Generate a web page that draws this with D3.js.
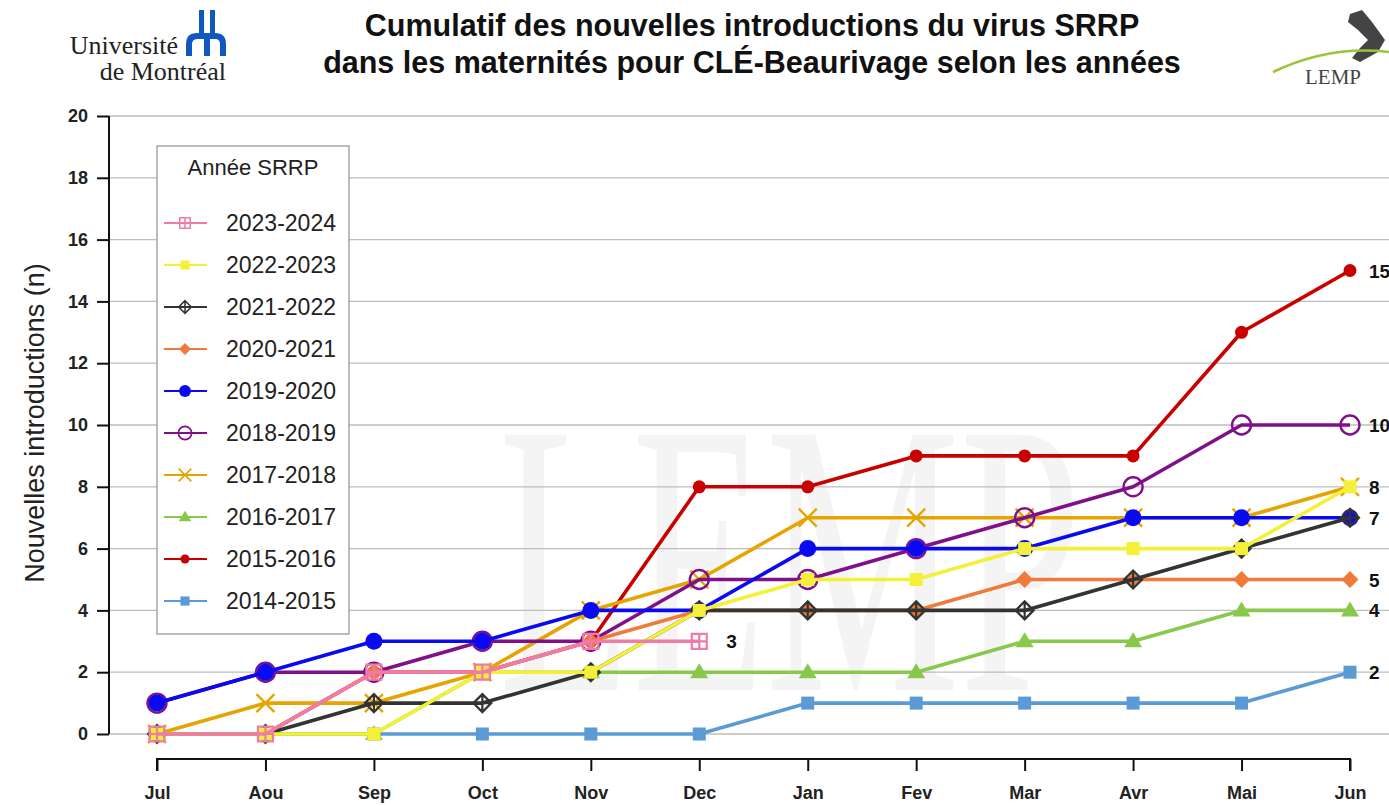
<!DOCTYPE html>
<html><head><meta charset="utf-8">
<script src="https://cdn.jsdelivr.net/npm/d3@7"></script>
<style>body{margin:0;background:#fff;overflow:hidden}svg{display:block}</style>
</head><body>
<svg id="c" width="1389" height="806"></svg>
<script>
const months = ["Jul","Aou","Sep","Oct","Nov","Dec","Jan","Fev","Mar","Avr","Mai","Jun"];
const yTicks = [0,2,4,6,8,10,12,14,16,18,20];
const s2014 = [0,0,0,0,0,0,1,1,1,1,1,2];
const s2015 = [0,0,2,2,3,8,8,9,9,9,13,15];
const s2016 = [0,0,0,2,2,2,2,2,3,3,4,4];
const s2017 = [0,1,1,2,4,5,7,7,7,7,7,8];
const s2018 = [1,2,2,3,3,5,5,6,7,8,10,10];
const s2019 = [1,2,3,3,4,4,6,6,6,7,7,7];
const s2020 = [0,0,2,2,3,4,4,4,5,5,5,5];
const s2021 = [0,0,1,1,2,4,4,4,4,5,6,7];
const s2022 = [0,0,0,2,2,4,5,5,6,6,6,8];
const s2023 = [0,0,2,2,3,3];
const endLabels = [15,10,8,7,5,4,2];
const series = [
  {name:"2014-2015", values:s2014, color:"#5b9bd5", marker:"square"},
  {name:"2015-2016", values:s2015, color:"#c80000", marker:"dot"},
  {name:"2016-2017", values:s2016, color:"#88c84a", marker:"triangle"},
  {name:"2017-2018", values:s2017, color:"#e6a400", marker:"x"},
  {name:"2018-2019", values:s2018, color:"#80108a", marker:"ocircle"},
  {name:"2019-2020", values:s2019, color:"#0a0af0", marker:"circle"},
  {name:"2020-2021", values:s2020, color:"#ef7a3a", marker:"diamond"},
  {name:"2021-2022", values:s2021, color:"#333333", marker:"pdiamond"},
  {name:"2022-2023", values:s2022, color:"#f4f03a", marker:"fsquare"},
  {name:"2023-2024", values:s2023, color:"#f07aa8", marker:"psquare"}
];
const FONT = "Liberation Sans, Arial, sans-serif";

const svg = d3.select("#c");
const x = d3.scalePoint().domain(months).range([157,1350]);
const y = d3.scaleLinear().domain([0,20]).range([734,116]);

// watermark
svg.append("text").attr("transform","translate(790,690) scale(0.56,1)")
  .attr("text-anchor","middle").attr("font-family","Liberation Serif, serif")
  .attr("font-size",390).attr("fill","#f4f4f4").text("LEMP");

// grid
svg.append("g").selectAll("line").data(yTicks).join("line")
  .attr("x1",109).attr("x2",1389).attr("y1",d=>y(d)).attr("y2",d=>y(d))
  .attr("stroke","#bdbdbd").attr("stroke-width",1.3);

// y axis
const ya = svg.append("g").attr("transform","translate(109,0)")
  .call(d3.axisLeft(y).tickValues(yTicks).tickSize(12).tickPadding(9));
ya.select(".domain").attr("stroke","#111").attr("stroke-width",2).attr("d","M0,116V734");
ya.selectAll(".tick line").attr("stroke","#111").attr("stroke-width",2);
ya.selectAll("text").attr("font-family",FONT).attr("font-size",18).attr("font-weight","bold").attr("fill","#222");

// x axis
const xa = svg.append("g").attr("transform","translate(0,759)")
  .call(d3.axisBottom(x).tickSize(12).tickPadding(15));
xa.select(".domain").attr("stroke","#111").attr("stroke-width",2).attr("d","M157,12V0H1350V12");
xa.selectAll(".tick line").attr("stroke","#111").attr("stroke-width",2);
xa.selectAll("text").attr("font-family",FONT).attr("font-size",18).attr("font-weight","bold").attr("fill","#222");

// y title
svg.append("text").attr("transform","translate(44,423) rotate(-90)").attr("text-anchor","middle")
  .attr("font-family",FONT).attr("font-size",27).attr("fill","#222")
  .text("Nouvelles introductions (n)");

function drawMarker(g, type, color, cx, cy, scale){
  const k = scale||1;
  const gg = g.append("g").attr("transform",`translate(${cx},${cy}) scale(${k})`);
  switch(type){
    case "square": gg.append("rect").attr("x",-6.5).attr("y",-6.5).attr("width",13).attr("height",13).attr("fill",color); break;
    case "fsquare": gg.append("rect").attr("x",-6.5).attr("y",-6.5).attr("width",13).attr("height",13).attr("fill",color); break;
    case "dot": gg.append("circle").attr("r",6.5).attr("fill",color); break;
    case "circle": gg.append("circle").attr("r",8.5).attr("fill",color); break;
    case "ocircle": gg.append("circle").attr("r",9.5).attr("fill","none").attr("stroke",color).attr("stroke-width",2.4); break;
    case "triangle": gg.append("path").attr("d","M0,-9L9,6H-9Z").attr("fill",color); break;
    case "x": gg.append("path").attr("d","M-9,-9L9,9M-9,9L9,-9").attr("stroke",color).attr("stroke-width",2.4); break;
    case "diamond": gg.append("path").attr("d","M0,-8.5L8.5,0L0,8.5L-8.5,0Z").attr("fill",color); break;
    case "pdiamond": gg.append("path").attr("d","M0,-9L9,0L0,9L-9,0ZM0,-9V9M-9,0H9").attr("fill","none").attr("stroke",color).attr("stroke-width",2.2); break;
    case "psquare": gg.append("path").attr("d","M-7.5,-7.5H7.5V7.5H-7.5ZM0,-7.5V7.5M-7.5,0H7.5").attr("fill","none").attr("stroke",color).attr("stroke-width",2.2); break;
  }
}

const line = d3.line().x((d,i)=>x(months[i])).y(d=>y(d));
series.forEach(s=>{
  const g = svg.append("g");
  g.append("path").datum(s.values).attr("d",line).attr("fill","none")
    .attr("stroke",s.color).attr("stroke-width",3.6).attr("stroke-linejoin","round");
  s.values.forEach((v,i)=>drawMarker(g,s.marker,s.color,x(months[i]),y(v)));
});

// end labels
svg.append("g").selectAll("text").data(endLabels).join("text")
  .attr("x",1369).attr("y",d=>y(d)+7).attr("font-family",FONT)
  .attr("font-size",19).attr("font-weight","bold").attr("fill","#111").text(d=>d);
svg.append("text").attr("x",x(months[s2023.length-1])+27).attr("y",y(s2023[s2023.length-1])+7)
  .attr("font-family",FONT).attr("font-size",19).attr("font-weight","bold").attr("fill","#111")
  .text(s2023[s2023.length-1]);

// legend
const leg = svg.append("g");
leg.append("rect").attr("x",157).attr("y",146).attr("width",192).attr("height",488)
  .attr("fill","#fff").attr("stroke","#999").attr("stroke-width",1.3);
leg.append("text").attr("x",253).attr("y",175).attr("text-anchor","middle")
  .attr("font-family",FONT).attr("font-size",22).attr("fill","#222").text("Année SRRP");
series.slice().reverse().forEach((s,i)=>{
  const yy = 223 + i*42;
  leg.append("line").attr("x1",164).attr("x2",207).attr("y1",yy).attr("y2",yy).attr("stroke",s.color).attr("stroke-width",2.2);
  drawMarker(leg,s.marker,s.color,185,yy,0.7);
  leg.append("text").attr("x",226).attr("y",yy+8).attr("font-family",FONT)
    .attr("font-size",23).attr("fill","#222").text(s.name);
});

// title
const t = svg.append("text").attr("text-anchor","middle").attr("font-family",FONT)
  .attr("font-size",30.5).attr("font-weight","bold").attr("fill","#111");
t.append("tspan").attr("x",752).attr("y",36).text("Cumulatif des nouvelles introductions du virus SRRP");
t.append("tspan").attr("x",752).attr("y",73).text("dans les maternités pour CLÉ-Beaurivage selon les années");

// UdeM logo
svg.append("text").attr("x",178).attr("y",54).attr("text-anchor","end").attr("font-family","Liberation Serif, serif")
  .attr("font-size",26).attr("fill","#222").text("Université");
svg.append("text").attr("x",226).attr("y",80).attr("text-anchor","end").attr("font-family","Liberation Serif, serif")
  .attr("font-size",26).attr("fill","#222").text("de Montréal");
const um = svg.append("g").attr("fill","#1058c0");
um.append("rect").attr("x",199).attr("y",10).attr("width",5).attr("height",24);
um.append("rect").attr("x",210).attr("y",10).attr("width",5).attr("height",24);
um.append("path").attr("d","M186,56V44Q186,33 197,33H215Q226,33 226,44V56H220V44Q220,39 215,39H210V56H204V39H198Q192,39 192,44V56Z");

// LEMP logo
svg.append("path").attr("d","M1350,14L1362,10L1372,22L1385,40L1378,52L1360,62L1352,58L1360,48L1368,40L1358,30L1348,22Z").attr("fill","#444");
svg.append("path").attr("d","M1273,72Q1330,45 1389,52").attr("fill","none").attr("stroke","#9cc43a").attr("stroke-width",2.5);
svg.append("text").attr("x",1333).attr("y",84).attr("text-anchor","middle").attr("font-family","Liberation Serif, serif")
  .attr("font-size",21).attr("fill","#444").text("LEMP");
</script>
</body></html>
